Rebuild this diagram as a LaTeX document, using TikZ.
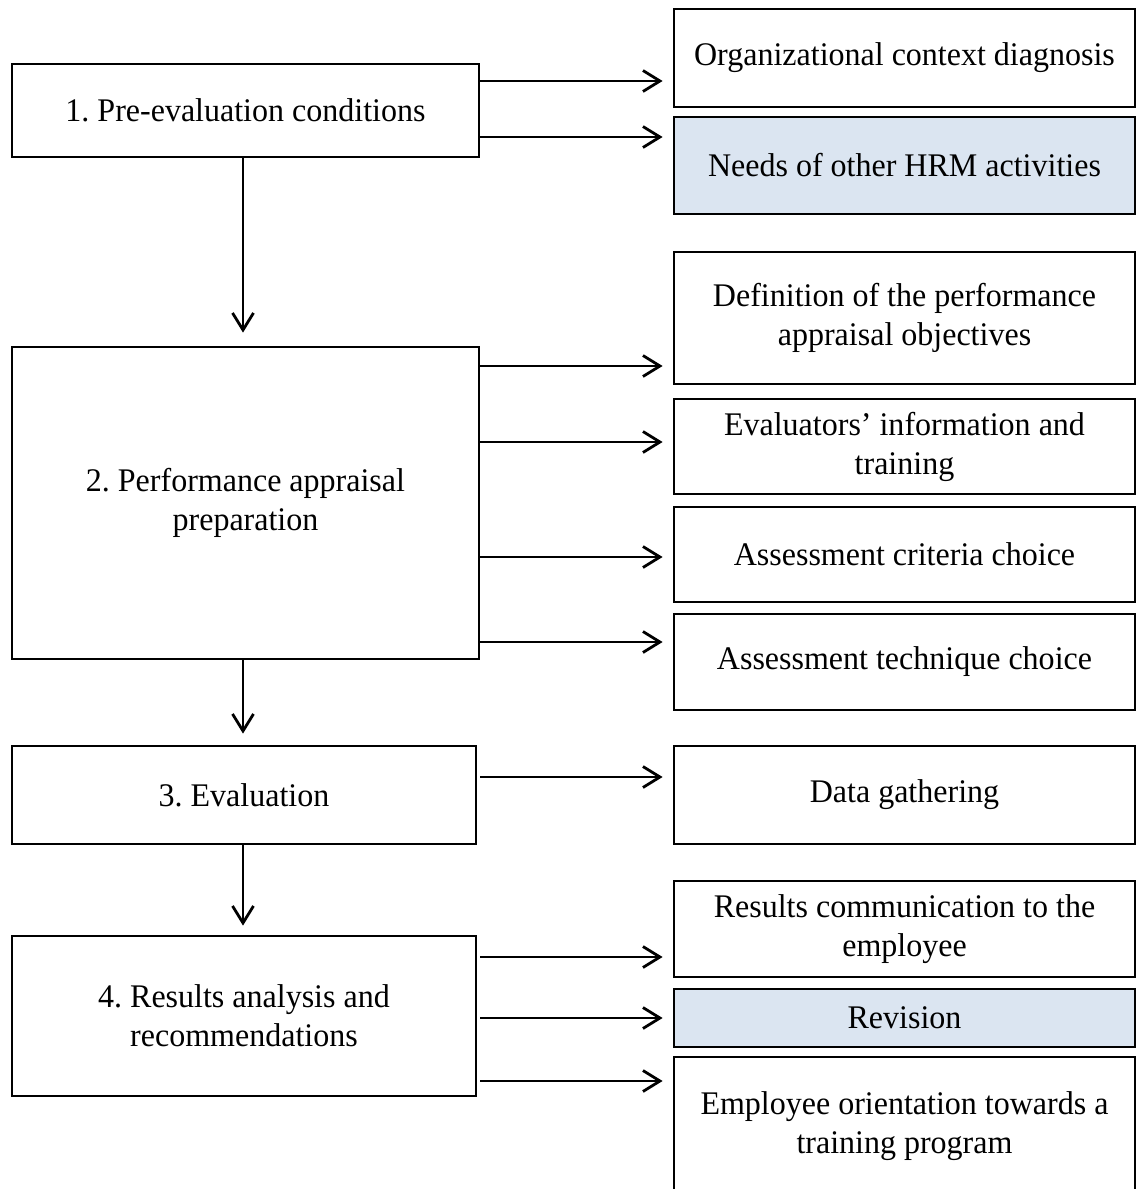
\documentclass[tikz,border=0pt]{standalone}
\usepackage{fontspec}
\setmainfont[FakeStretch=0.97]{Liberation Serif}
\usetikzlibrary{arrows.meta}
\definecolor{paleblue}{HTML}{DBE5F1}
\frenchspacing
\begin{document}
\begin{tikzpicture}[x=1pt,y=-1pt,
  box/.style={draw, line width=2.8pt, inner sep=0pt, align=center,
    font=\fontsize{33}{39}\selectfont},
  lbox/.style={box, minimum width=467pt},
  rbox/.style={box, minimum width=461pt},
  blue/.style={fill=paleblue},
  arr/.style={line width=2.8pt, -{Straight Barb[length=17pt,width=21pt,line width=2.8pt]}}
]
\useasboundingbox (0,0) rectangle (1137,1189);
% left column
\node[lbox, minimum height=93pt] (b1) at (245.5,110.5) {1. Pre-evaluation conditions};
\node[lbox, minimum height=312pt] (b2) at (245.5,503) {2. Performance appraisal\\preparation};
\node[box, minimum width=464pt, minimum height=98pt] (b3) at (244,795) {3. Evaluation};
\node[box, minimum width=464pt, minimum height=160pt] (b4) at (244,1016) {4. Results analysis and\\recommendations};
% right column
\node[rbox, minimum height=98pt] (r1) at (904.5,58) {Organizational context diagnosis};
\node[rbox, blue, minimum height=97pt] (r2) at (904.5,165.5) {Needs of other HRM activities};
\node[rbox, minimum height=132pt] (r3) at (904.5,318) {Definition of the performance\\appraisal objectives};
\node[rbox, minimum height=95pt] (r4) at (904.5,446.5) {Evaluators’ information and\\training};
\node[rbox, minimum height=95pt] (r5) at (904.5,554.5) {Assessment criteria choice};
\node[rbox, minimum height=96pt] (r6) at (904.5,662) {Assessment technique choice};
\node[rbox, minimum height=98pt] (r7) at (904.5,795) {Data gathering};
\node[rbox, minimum height=96pt] (r8) at (904.5,929) {Results communication to the\\employee};
\node[rbox, blue, minimum height=58pt] (r9) at (904.5,1018) {Revision};
\node[rbox, minimum height=138pt] (r10) at (904.5,1126) {Employee orientation towards a\\training program};
% vertical connectors
\draw[arr, shorten >=13pt] (b1.south -| 243,0) -- (b2.north -| 243,0);
\draw[arr, shorten >=11pt] (b2.south -| 243,0) -- (b3.north -| 243,0);
\draw[arr, shorten >=9pt] (b3.south -| 243,0) -- (b4.north -| 243,0);
% horizontal connectors
\draw[arr, shorten >=10pt] (b1.east |- 0,81) -- (r1.west |- 0,81);
\draw[arr, shorten >=10pt] (b1.east |- 0,137) -- (r2.west |- 0,137);
\draw[arr, shorten >=10pt] (b2.east |- 0,366) -- (r3.west |- 0,366);
\draw[arr, shorten >=10pt] (b2.east |- 0,442) -- (r4.west |- 0,442);
\draw[arr, shorten >=10pt] (b2.east |- 0,557) -- (r5.west |- 0,557);
\draw[arr, shorten >=10pt] (b2.east |- 0,642) -- (r6.west |- 0,642);
\draw[arr, shorten <=3pt, shorten >=10pt] (b3.east |- 0,777) -- (r7.west |- 0,777);
\draw[arr, shorten <=3pt, shorten >=10pt] (b4.east |- 0,957) -- (r8.west |- 0,957);
\draw[arr, shorten <=3pt, shorten >=10pt] (b4.east |- 0,1018) -- (r9.west |- 0,1018);
\draw[arr, shorten <=3pt, shorten >=10pt] (b4.east |- 0,1081) -- (r10.west |- 0,1081);
\end{tikzpicture}
\end{document}
